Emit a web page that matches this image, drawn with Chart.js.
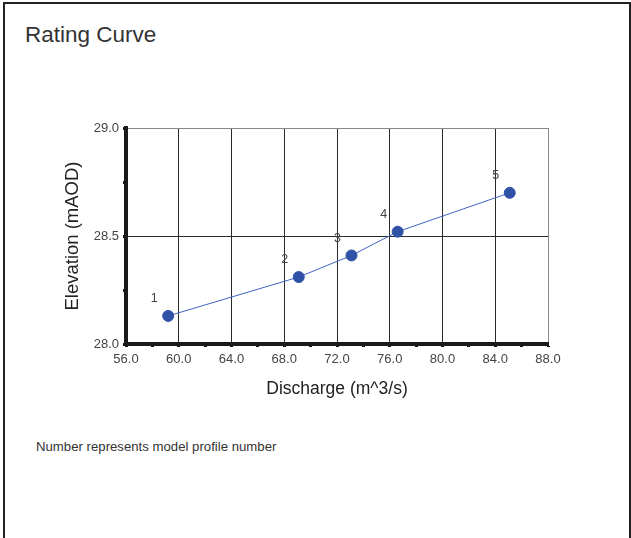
<!DOCTYPE html>
<html>
<head>
<meta charset="utf-8">
<script src="https://cdn.jsdelivr.net/npm/chart.js@4/dist/chart.umd.min.js"></script>
<style>
  html, body { margin: 0; padding: 0; background: #fff; }
  body { width: 631px; height: 538px; position: relative; overflow: hidden; }
  #frame {
    position: absolute; left: 3px; top: 2px; width: 624px; height: 600px;
    border: 2px solid #222; border-bottom: none;
  }
  #title {
    position: absolute; left: 25px; top: 24px;
    font: 22.5px "Liberation Sans", Arial, sans-serif; line-height: 1; color: #333;
  }
  #note {
    position: absolute; left: 36px; top: 439.5px;
    font: 13.2px "Liberation Sans", Arial, sans-serif; line-height: 1; color: #333;
  }
  canvas { position: absolute; left: 0; top: 0; }
</style>
</head>
<body>
<div id="frame"></div>
<div id="title">Rating Curve</div>
<div id="note">Number represents model profile number</div>
<canvas id="chart" width="631" height="538"></canvas>
<script>
// data
const profiles = ["1", "2", "3", "4", "5"];
const discharge = [59.2, 69.1, 73.1, 76.6, 85.1];
const elevation = [28.13, 28.31, 28.41, 28.52, 28.70];

const xTicks = [56, 88, 2];   // min, max, step
const yTicks = [28, 29, 0.25];

// labels each point with its profile number
const profileLabels = {
  id: "profileLabels",
  afterDatasetsDraw(chart) {
    const ctx = chart.ctx;
    const pts = chart.getDatasetMeta(0).data;
    ctx.save();
    ctx.font = "12.5px 'Liberation Sans', Arial, sans-serif";
    ctx.fillStyle = "#444";
    ctx.textAlign = "center";
    ctx.textBaseline = "middle";
    pts.forEach((p, i) => {
      ctx.fillText(profiles[i], p.x - 14, p.y - 17);
    });
    ctx.restore();
  }
};

const gridColor = (max, major) => (c) => {
  const v = c.tick.value;
  if (Math.abs(v - max) < 1e-9) return "#888";
  return Math.abs(v / major - Math.round(v / major)) < 1e-9 ? "#2a2a2a" : "rgba(0,0,0,0)";
};

const tickFont = { family: "'Liberation Sans', Arial, sans-serif", size: 13 };

new Chart(document.getElementById("chart").getContext("2d"), {
  type: "scatter",
  data: {
    datasets: [
      {
        data: discharge.map((x, i) => ({ x: x, y: elevation[i] })),
        showLine: true,
        borderColor: "#4262c0",
        borderWidth: 1,
        pointBackgroundColor: "#2f51a6",
        pointBorderColor: "#2f51a6",
        pointRadius: 5.5,
      },
    ],
  },
  options: {
    responsive: false,
    animation: false,
    layout: { padding: { left: 62, right: 83, top: 128, bottom: 138 } },
    plugins: { legend: { display: false }, tooltip: { enabled: false } },
    scales: {
      x: {
        type: "linear",
        min: xTicks[0],
        max: xTicks[1],
        afterFit(s) { s.height = 56; },
        border: { color: "#1a1a1a", width: 4 },
        grid: {
          color: gridColor(xTicks[1], 4),
          lineWidth: 1,
          tickColor: "#111",
          tickLength: 3,
          tickWidth: 3,
        },
        ticks: {
          stepSize: xTicks[2],
          autoSkip: false,
          maxRotation: 0,
          padding: 5,
          color: "#444",
          font: tickFont,
          callback: (v) => (v % 4 === 0 ? v.toFixed(1) : ""),
        },
        title: {
          display: true,
          text: "Discharge (m^3/s)",
          color: "#222",
          padding: 0,
          font: { family: "'Liberation Sans', Arial, sans-serif", size: 17.5 },
        },
      },
      y: {
        min: yTicks[0],
        max: yTicks[1],
        afterFit(s) { s.width = 64; },
        border: { color: "#1a1a1a", width: 4 },
        grid: {
          color: gridColor(yTicks[1], 0.5),
          lineWidth: 1,
          tickColor: "#111",
          tickLength: 3,
          tickWidth: 3,
        },
        ticks: {
          stepSize: yTicks[2],
          autoSkip: false,
          padding: 4,
          color: "#444",
          font: tickFont,
          callback: (v) => (Math.abs(v * 2 - Math.round(v * 2)) < 1e-9 ? v.toFixed(1) : ""),
        },
        title: {
          display: true,
          text: "Elevation (mAOD)",
          color: "#222",
          padding: 0,
          font: { family: "'Liberation Sans', Arial, sans-serif", size: 18.5 },
        },
      },
    },
  },
  plugins: [profileLabels],
});
</script>
</body>
</html>
